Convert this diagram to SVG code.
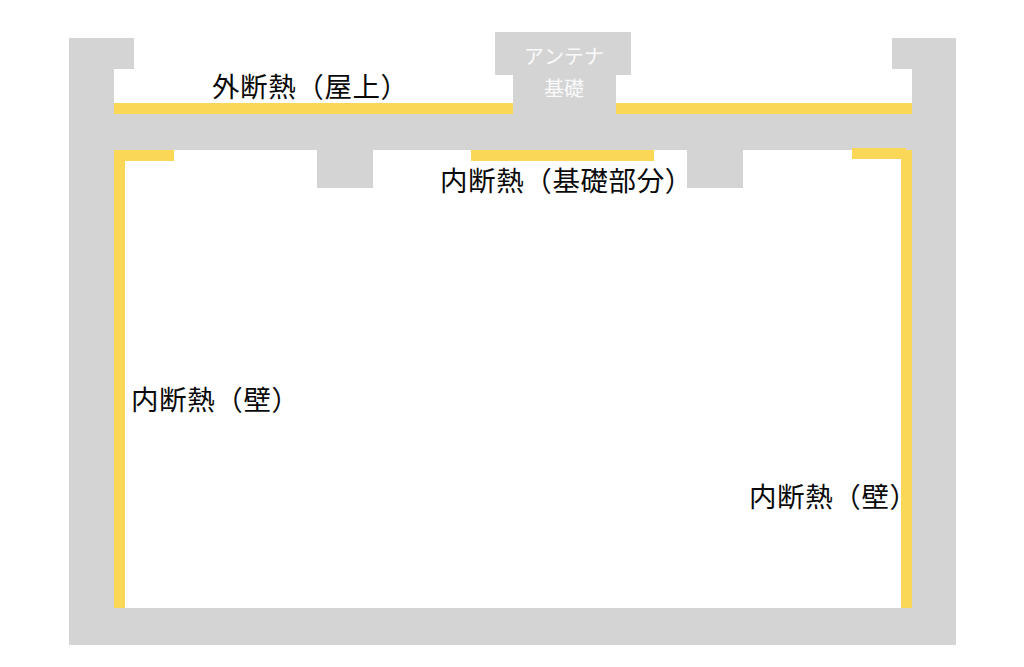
<svg xmlns="http://www.w3.org/2000/svg" width="1024" height="667" viewBox="0 0 1024 667">
<style>
.c{fill:#d4d4d4}
.y{fill:#fad757}
text{font-family:"Noto Sans CJK JP","Noto Sans",sans-serif;text-spacing-trim:space-all;font-kerning:none}
.l{font-size:27.5px;letter-spacing:.6px;fill:#0a0a0a}
.w{font-size:20px;fill:#fafafa;text-anchor:middle}
</style>
<rect width="1024" height="667" fill="#fff"/>
<g id="structure">
<path class="c" d="M69 38H134V69H114V103H513V75H495V32H631V75H616V103H912V69H892V38H956V645H69ZM114 150V608H912V150H743V188H687V150H373V188H317V150Z" fill-rule="evenodd"/>
</g>
<g id="insulation">
<rect class="y" x="114" y="103" width="399" height="11"/>
<rect class="y" x="616" y="103" width="296" height="11"/>
<rect class="y" x="114" y="150" width="60" height="11"/>
<rect class="y" x="114" y="150" width="11" height="458"/>
<rect class="y" x="471" y="150" width="183" height="11"/>
<rect class="y" x="852" y="148" width="54" height="11"/>
<rect class="y" x="901" y="150" width="11" height="458"/>
</g>
<g id="labels">
<text class="l" x="212" y="97">外断熱（屋上）</text>
<text class="l" x="440" y="191">内断熱（基礎部分）</text>
<text class="l" x="131" y="410">内断熱（壁）</text>
<text class="l" x="749" y="507">内断熱（壁）</text>
<text class="w" x="564" y="64">アンテナ</text>
<text class="w" x="564" y="96">基礎</text>
</g>
</svg>
